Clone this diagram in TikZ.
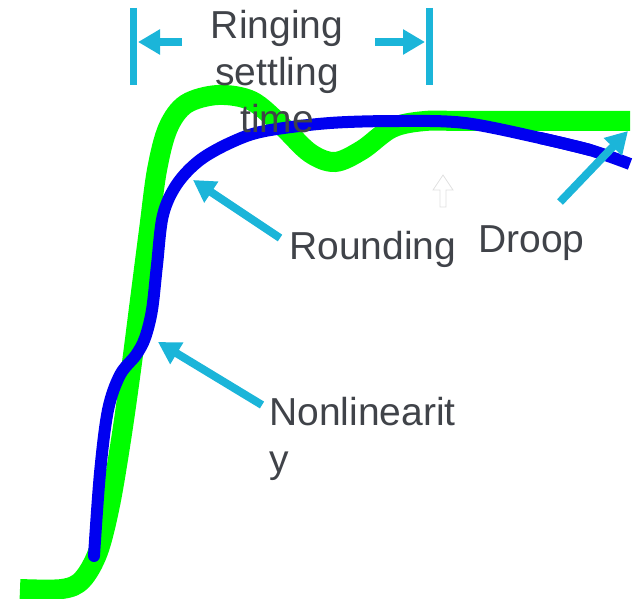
\documentclass[tikz,border=0pt]{standalone}
\usepackage{fontspec}
\setmainfont{Liberation Sans}
\usetikzlibrary{arrows.meta}
\definecolor{sig}{HTML}{00FF00}
\definecolor{resp}{HTML}{0000F0}
\definecolor{callout}{HTML}{1BB5D9}
\definecolor{txt}{HTML}{404349}
\tikzset{
  lbl/.style={inner sep=0pt, text=txt, font=\fontsize{39}{47}\selectfont},
  callarrow/.style={draw=callout, line width=8pt, -{Triangle[length=22pt,width=24pt]}},
  bar/.style={draw=callout, line width=7pt},
}
\begin{document}
\begin{tikzpicture}[x=1pt,y=-1pt]
\useasboundingbox (0,0) rectangle (635,599);
% green (ideal-ish) step with ringing
\draw[sig, line width=20pt] plot[smooth, tension=0.55] coordinates {
 (20,589) (62,589) (82,580) (98,552) (110,505) (121,440) (131,370) (140,300)
 (149,230) (157,170) (168,128) (186,104) (218,95) (252,101) (282,126)
 (310,153) (335,162) (362,150) (392,128) (425,121) (470,121) (630,121)};
% blue response
\draw[resp, line width=12pt, line cap=round] plot[smooth, tension=0.55] coordinates {
 (94,556) (100,473) (108,410) (120,375) (136,355) (145,338) (152,310)
 (157,265) (163,215) (177,184) (200,160) (232,142) (265,131) (330,123)
 (400,121) (465,123) (540,138) (590,150)};
\draw[resp, line width=12pt] plot[smooth, tension=0.55] coordinates {(540,138) (590,150) (630,164)};
% faint outline arrow
\draw[black!12, line width=0.8pt, fill=white] (443,175) -- (453,190) -- (446,190) -- (446,207)
  -- (440,207) -- (440,190) -- (433,190) -- cycle;
% ringing settling time markers
\coordinate (lbt) at (133.5,8);  \coordinate (lbb) at (133.5,85);
\coordinate (rbt) at (429.5,8);  \coordinate (rbb) at (429.5,85);
\draw[bar] (lbt) -- (lbb);
\draw[bar] (rbt) -- (rbb);
\coordinate (la0) at (182,42); \coordinate (la1) at (138,42);
\coordinate (ra0) at (375,42); \coordinate (ra1) at (425,42);
\draw[callarrow] (la0) -- (la1);
\draw[callarrow] (ra0) -- (ra1);
% callouts
\coordinate (rnd0) at (280,238); \coordinate (rnd1) at (193,180);
\coordinate (nl0) at (262,405);  \coordinate (nl1) at (158,342);
\coordinate (dr0) at (560,202);  \coordinate (dr1) at (628,131);
\draw[callarrow] (rnd0) -- (rnd1);
\draw[callarrow] (nl0) -- (nl1);
\draw[callarrow] (dr0) -- (dr1);
% labels
\node[lbl, align=center, anchor=north] (ring) at (277,10) {Ringing\\settling\\time};
\node[lbl, anchor=base west] (round) at (289,259) {Rounding};
\node[lbl, anchor=base west] (droop) at (478,252) {Droop};
\node[lbl, align=left, anchor=north west] (nonlin) at (269,397) {Nonlinearit\\y};
\end{tikzpicture}
\end{document}
